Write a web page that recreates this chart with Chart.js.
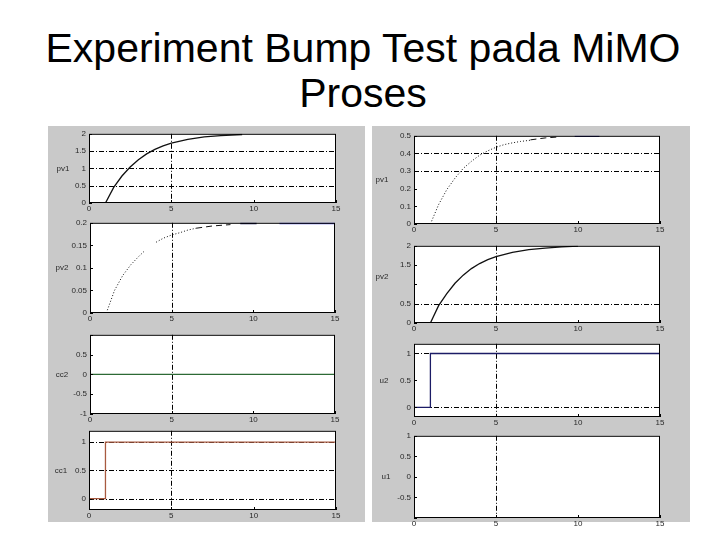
<!DOCTYPE html>
<html>
<head>
<meta charset="utf-8">
<script src="https://cdn.jsdelivr.net/npm/chart.js@4/dist/chart.umd.min.js"></script>
<style>
  body { margin: 0; width: 720px; height: 540px; background: #fff; position: relative; overflow: hidden; font-family: "Liberation Sans", Arial, sans-serif; }
  #title { position: absolute; left: 3px; top: 26px; width: 720px; text-align: center; font-size: 41px; line-height: 45px; color: #000; }
  .panel { position: absolute; background: #c9c9c9; }
  canvas { position: absolute; }
</style>
</head>
<body>
<div id="title">Experiment Bump Test pada MiMO<br>Proses</div>
<div class="panel" style="left:48px;top:126px;width:317px;height:396px"></div>
<div class="panel" style="left:372px;top:126px;width:318px;height:396px"></div>
<script>
// waktu (detik) untuk sumbu x
const xTicks = [0, 5, 10, 15];

// pv1 kiri (respon step, garis hitam)
const pv1LeftT = [0, 1, 1.5, 2, 2.5, 3, 3.5, 4, 4.5, 5, 6, 7, 8, 9.3];
const pv1LeftY = [0, 0, 0.45, 0.78, 1.04, 1.25, 1.42, 1.55, 1.65, 1.73, 1.84, 1.91, 1.95, 1.98];

// pv2 kiri (titik-titik, putus-putus, lalu biru)
const pv2LeftDotT = [1, 1.5, 2, 2.5, 3, 3.35, 3.7, 4.05, 4.5, 5, 5.5, 6, 6.5];
const pv2LeftDotY = [0, 0.05, 0.083, 0.107, 0.126, 0.138, null, 0.157, 0.166, 0.173, 0.178, 0.184, 0.188];
const pv2LeftDashT = [6.5, 7.5, 8.6];
const pv2LeftDashY = [0.188, 0.193, 0.196];
const pv2LeftNavyT = [9.2, 10.2];
const pv2LeftNavyY = [0.199, 0.199];
const pv2LeftBlueT = [11.6, 15];
const pv2LeftBlueY = [0.199, 0.199];

// cc2 dan cc1 (sinyal kontrol kiri)
const cc2T = [0, 15];
const cc2Y = [0, 0];
const cc1T = [0, 1, 1, 15];
const cc1Y = [0, 0, 1, 1];

// pv1 kanan
const pv1RightDotT = [1, 1.5, 2, 2.5, 3, 3.5, 4, 4.5, 5, 5.5, 6, 6.5, 7.1];
const pv1RightDotY = [0, 0.11, 0.195, 0.26, 0.315, 0.355, 0.39, 0.415, 0.435, 0.45, 0.46, 0.468, 0.475];
const pv1RightDashT = [7.1, 8, 8.9];
const pv1RightDashY = [0.477, 0.488, 0.494];
const pv1RightBlueT = [9.8, 11.3];
const pv1RightBlueY = [0.498, 0.498];

// pv2 kanan
const pv2RightT = [1, 1.5, 2, 2.5, 3, 3.5, 4, 4.5, 5, 6, 7, 8, 9, 10];
const pv2RightY = [0, 0.45, 0.76, 1.03, 1.24, 1.41, 1.54, 1.64, 1.72, 1.83, 1.9, 1.94, 1.97, 1.99];

// u2 (step)
const u2T = [0, 1, 1, 15];
const u2Y = [0, 0, 1, 1];

const tickFont = { family: "Liberation Sans", size: 8 };
const tickColor = "#2a2a2a";

// frame + grid ala MATLAB
const matlabFrame = {
  id: "matlabFrame",
  beforeDatasetsDraw(chart, args, opts) {
    const { ctx, chartArea: a, scales } = chart;
    ctx.save();
    ctx.fillStyle = "#fff";
    ctx.fillRect(a.left, a.top, a.width, a.height);
    ctx.strokeStyle = "#000";
    ctx.lineWidth = 1;
    ctx.setLineDash([5, 2, 1, 2]);
    (opts.hGrid || []).forEach((v) => {
      const y = Math.round(scales.y.getPixelForValue(v)) + 0.5;
      ctx.beginPath();
      ctx.moveTo(a.left, y);
      ctx.lineTo(a.right, y);
      ctx.stroke();
    });
    (opts.vGrid || []).forEach((v) => {
      const x = Math.round(scales.x.getPixelForValue(v)) + 0.5;
      ctx.beginPath();
      ctx.moveTo(x, a.top);
      ctx.lineTo(x, a.bottom);
      ctx.stroke();
    });
    ctx.restore();
  },
  afterDraw(chart, args, opts) {
    const { ctx, chartArea: a, scales } = chart;
    ctx.save();
    ctx.strokeStyle = "#000";
    ctx.lineWidth = 1;
    ctx.strokeRect(a.left + 0.5, a.top + 0.5, a.width - 1, a.height - 1);
    // tick kecil ke dalam
    ctx.beginPath();
    scales.y.ticks.forEach((t) => {
      const y = Math.round(scales.y.getPixelForValue(t.value)) + 0.5;
      ctx.moveTo(a.left, y);
      ctx.lineTo(a.left + 3, y);
    });
    scales.x.ticks.forEach((t) => {
      const x = Math.round(scales.x.getPixelForValue(t.value)) + 0.5;
      ctx.moveTo(x, a.bottom);
      ctx.lineTo(x, a.bottom - 3);
    });
    ctx.stroke();
    ctx.fillStyle = tickColor;
    ctx.font = "8px 'Liberation Sans'";
    ctx.textAlign = "center";
    ctx.textBaseline = "middle";
    const ly = opts.labelAt !== undefined ? scales.y.getPixelForValue(opts.labelAt) : (a.top + a.bottom) / 2;
    ctx.fillText(opts.yLabel, a.left - opts.labelOffset, ly);
    ctx.restore();
  },
};

const subplots = [
  {
    area: [89, 132, 336, 203], yMin: 0, yMax: 2, yTicks: [0, 0.5, 1, 1.5, 2], yShown: [0, 0.5, 1, 1.5, 2],
    hGrid: [0.5, 1, 1.5], vGrid: [5], yLabel: "pv1", labelOffset: 26,
    series: [{ t: pv1LeftT, y: pv1LeftY, color: "#111", width: 1.3 }],
  },
  {
    area: [90, 221, 335, 313], yMin: 0, yMax: 0.2, yTicks: [0, 0.05, 0.1, 0.15, 0.2], yShown: [0, 0.05, 0.1, 0.15, 0.2],
    hGrid: [], vGrid: [5], yLabel: "pv2", labelOffset: 28,
    series: [
      { t: pv2LeftDotT, y: pv2LeftDotY, color: "#111", width: 1, dash: [1, 2] },
      { t: pv2LeftDashT, y: pv2LeftDashY, color: "#111", width: 1, dash: [6, 4] },
      { t: pv2LeftNavyT, y: pv2LeftNavyY, color: "#1a1a5a", width: 2 },
      { t: pv2LeftBlueT, y: pv2LeftBlueY, color: "#5a5ae0", width: 2 },
    ],
  },
  {
    area: [90, 333, 335, 414], yMin: -1, yMax: 1, yTicks: [-1, -0.5, 0, 0.5, 1], yShown: [-1, -0.5, 0, 0.5],
    hGrid: [], vGrid: [5], yLabel: "cc2", labelOffset: 28,
    series: [{ t: cc2T, y: cc2Y, color: "#2d6a35", width: 1.3 }],
  },
  {
    area: [89, 429, 336, 510], yMin: -0.2, yMax: 1.2, yTicks: [0, 0.5, 1], yShown: [0, 0.5, 1],
    hGrid: [0, 0.5, 1], vGrid: [5], yLabel: "cc1", labelOffset: 28,
    series: [{ t: cc1T, y: cc1Y, color: "#a85a40", width: 1.3 }],
  },
  {
    area: [414, 134, 660, 224], yMin: 0, yMax: 0.5, yTicks: [0, 0.1, 0.2, 0.3, 0.4, 0.5], yShown: [0, 0.1, 0.2, 0.3, 0.4, 0.5],
    hGrid: [0.3, 0.4], vGrid: [5], yLabel: "pv1", labelOffset: 32,
    series: [
      { t: pv1RightDotT, y: pv1RightDotY, color: "#111", width: 1, dash: [1, 2] },
      { t: pv1RightDashT, y: pv1RightDashY, color: "#111", width: 1, dash: [6, 4] },
      { t: pv1RightBlueT, y: pv1RightBlueY, color: "#2a2a9a", width: 1.5 },
    ],
  },
  {
    area: [414, 244, 660, 323], yMin: 0, yMax: 2, yTicks: [0, 0.5, 1, 1.5, 2], yShown: [0, 0.5, 1.5, 2],
    hGrid: [0.5], vGrid: [5], yLabel: "pv2", labelOffset: 32, labelAt: 1.2,
    series: [{ t: pv2RightT, y: pv2RightY, color: "#111", width: 1.3 }],
  },
  {
    area: [414, 342, 660, 417], yMin: -0.18, yMax: 1.18, yTicks: [0, 0.5, 1], yShown: [0, 0.5, 1],
    hGrid: [0, 1], vGrid: [5], yLabel: "u2", labelOffset: 30,
    series: [{ t: u2T, y: u2Y, color: "#1c1c66", width: 1.3 }],
  },
  {
    area: [414, 434, 660, 518], yMin: -1, yMax: 1, yTicks: [-1, -0.5, 0, 0.5, 1], yShown: [-0.5, 0, 0.5, 1],
    hGrid: [], vGrid: [5], yLabel: "u1", labelOffset: 28,
    series: [],
  },
];

const padL = 40, padT = 6, padR = 10, padB = 12;

subplots.forEach((sp) => {
  const [l, t, r, b] = sp.area;
  const w = r - l + padL + padR;
  const h = b - t + padT + padB;
  const canvas = document.createElement("canvas");
  canvas.width = w;
  canvas.height = h;
  canvas.style.left = l - padL + "px";
  canvas.style.top = t - padT + "px";
  canvas.style.width = w + "px";
  canvas.style.height = h + "px";
  document.body.appendChild(canvas);

  new Chart(canvas, {
    type: "line",
    data: {
      datasets: sp.series.map((s) => ({
        data: s.t.map((x, i) => ({ x: x, y: s.y[i] })),
        borderColor: s.color,
        borderWidth: s.width,
        borderDash: s.dash || [],
        pointRadius: 0,
        tension: 0,
        fill: false,
        spanGaps: false,
      })),
    },
    options: {
      responsive: false,
      animation: false,
      events: [],
      layout: { padding: { top: padT, right: padR, left: 0, bottom: 0 } },
      plugins: {
        legend: { display: false },
        tooltip: { enabled: false },
        matlabFrame: { hGrid: sp.hGrid, vGrid: sp.vGrid, yLabel: sp.yLabel, labelOffset: sp.labelOffset, labelAt: sp.labelAt },
      },
      scales: {
        x: {
          type: "linear",
          min: 0,
          max: 15,
          afterBuildTicks: (s) => { s.ticks = xTicks.map((v) => ({ value: v })); },
          afterFit: (s) => { s.height = padB; },
          grid: { display: false, drawTicks: false },
          border: { display: false },
          ticks: { padding: 1, font: tickFont, color: tickColor, maxRotation: 0, autoSkip: false },
        },
        y: {
          type: "linear",
          min: sp.yMin,
          max: sp.yMax,
          afterBuildTicks: (s) => { s.ticks = sp.yTicks.map((v) => ({ value: v })); },
          afterFit: (s) => { s.width = padL; },
          grid: { display: false, drawTicks: false },
          border: { display: false },
          ticks: {
            padding: 3,
            font: tickFont,
            color: tickColor,
            autoSkip: false,
            callback: (v) => (sp.yShown.includes(v) ? String(v) : ""),
          },
        },
      },
    },
    plugins: [matlabFrame],
  });
});
</script>
</body>
</html>
